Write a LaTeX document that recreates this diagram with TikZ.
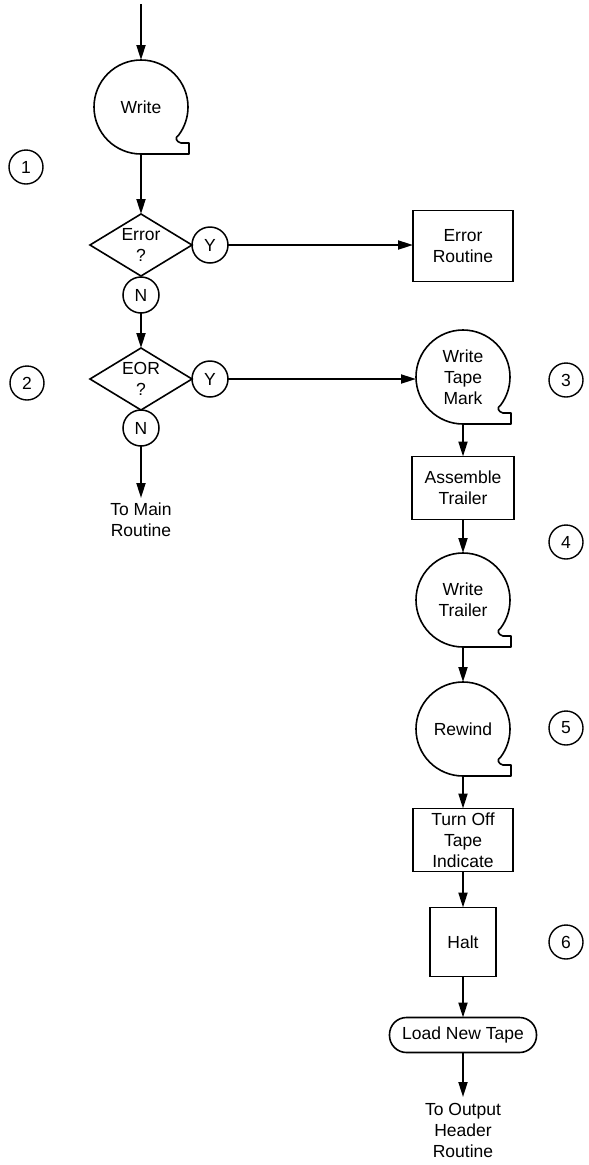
\documentclass[tikz,border=0pt]{standalone}
\usepackage{fontspec}
\setmainfont{Liberation Sans}
\usetikzlibrary{shapes.geometric,arrows.meta,calc}

% outline of a display symbol: a circle with a squared-off lower right tail
\newcommand\dispoutline[1]{%
  \draw[outline] (#1.south) arc[start angle=90,end angle=396.6,radius=47]
    .. controls +(-5,3) and +(-4,-1) .. ($(#1.center)+(40,36)$)
    -- ($(#1.center)+(48,36)$) -- ($(#1.center)+(48,47)$) -- cycle;}

\begin{document}
\begin{tikzpicture}[x=1pt,y=-1pt,
  every node/.style={font=\fontsize{17.5}{21}\selectfont, align=center,
    inner sep=0pt, outer sep=0pt},
  outline/.style={line width=1.6pt, line join=round},
  flow/.style={line width=1.9pt, -{Triangle[length=15pt,width=9pt]}},
  display/.style={circle, minimum size=94pt},
  procbox/.style={draw, line width=1.6pt, rectangle},
  decision/.style={draw, line width=1.6pt, diamond, aspect=1.6,
    minimum width=102pt, minimum height=62pt},
  branch/.style={draw, line width=1.5pt, circle, minimum size=36pt},
  stepnum/.style={draw, line width=1.4pt, circle, minimum size=34pt},
  terminal/.style={draw, line width=1.6pt, rounded corners=17pt,
    minimum width=147pt, minimum height=35pt},
]
\useasboundingbox (0,0) rectangle (589,1165);

% left column
\coordinate (start) at (141,4);
\node[display] (write) at (141,107) {Write};
\dispoutline{write}
\node[decision] (err) at (141,245) {Error\\?};
\node[branch] (y1) at (210,245) {Y};
\node[branch] (n1) at (141,295) {N};
\node[decision] (eor) at (141,379) {EOR\\?};
\node[branch] (y2) at (210,379) {Y};
\node[branch] (n2) at (141,428) {N};
\node[anchor=north] (main) at (141,503) {To Main\\Routine};

% right column
\node[procbox, minimum width=100pt, minimum height=71pt] (errr) at (463,246) {Error\\Routine};
\node[display] (wtm) at (463,377) {Write\\Tape\\Mark};
\dispoutline{wtm}
\node[procbox, minimum width=102pt, minimum height=63pt] (asm) at (463,488) {Assemble\\Trailer};
\node[display] (wtr) at (463,600) {Write\\Trailer};
\dispoutline{wtr}
\node[display] (rew) at (463,729) {Rewind};
\dispoutline{rew}
\node[procbox, minimum width=100pt, minimum height=63pt] (off) at (463,840) {Turn Off\\Tape\\Indicate};
\node[procbox, minimum width=66pt, minimum height=69pt] (halt) at (463,942) {Halt};
\node[terminal] (load) at (463,1035) {Load New Tape};
\node[anchor=north] (hdr) at (463,1103) {To Output\\Header\\Routine};

% step numbers
\node[stepnum] (s1) at (26,167) {1};
\node[stepnum] (s2) at (27,383) {2};
\node[stepnum] (s3) at (566,380) {3};
\node[stepnum] (s4) at (566,542) {4};
\node[stepnum] (s5) at (566,728) {5};
\node[stepnum] (s6) at (566,942) {6};

% connectors
\draw[flow] (start) -- (write.north);
\draw[flow] (write.south) -- (err.north);
\draw[flow] (y1.east) -- (errr.west |- y1.east);
\draw[flow] (n1.south) -- (eor.north);
\draw[flow] (y2.east) -- (wtm.west |- y2.east);
\draw[flow] (n2.south) -- ([yshift=5pt]main.north);
\draw[flow] (wtm.south) -- (asm.north);
\draw[flow] (asm.south) -- (wtr.north);
\draw[flow] (wtr.south) -- (rew.north);
\draw[flow] (rew.south) -- (off.north);
\draw[flow] (off.south) -- (halt.north);
\draw[flow] (halt.south) -- (load.north);
\draw[flow] (load.south) -- ([yshift=6pt]hdr.north);
\end{tikzpicture}
\end{document}
